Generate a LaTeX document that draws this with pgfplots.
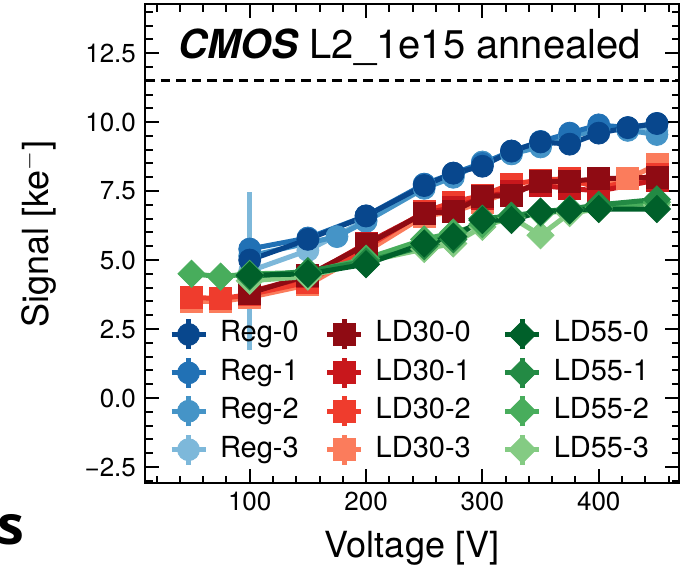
\documentclass[border=0pt]{standalone}
\usepackage{pgfplots}
\pgfplotsset{compat=1.18}
\usepackage{fontspec}
\setmainfont{TeX Gyre Heros}
\newfontfamily\osans{Open Sans}
\definecolor{b0}{HTML}{08478D}
\definecolor{b1}{HTML}{2171B5}
\definecolor{b2}{HTML}{4594C7}
\definecolor{b3}{HTML}{7DB8DA}
\definecolor{r0}{HTML}{8F0B13}
\definecolor{r1}{HTML}{C8171C}
\definecolor{r2}{HTML}{EF3C2D}
\definecolor{r3}{HTML}{FB7C5C}
\definecolor{g0}{HTML}{00602A}
\definecolor{g1}{HTML}{238A44}
\definecolor{g2}{HTML}{48AD5C}
\definecolor{g3}{HTML}{84CB83}
\pgfplotsset{
  regs/.style={color=#1, line width=2.5pt, mark=*, mark size=5.5pt, mark options={solid, line width=0.4pt, fill=#1}},
  lds/.style={color=#1, line width=2.5pt, mark=square*, mark size=5.5pt, mark options={solid, line width=0.4pt, fill=#1}},
  ldd/.style={color=#1, line width=2.5pt, mark=square*, mark size=4.8pt, mark options={solid, rotate=45, line width=0.4pt, fill=#1}},
}
\begin{document}
\begin{tikzpicture}[x=1pt,y=1pt]
\useasboundingbox (-72.5,-42) rectangle (277.5,241.5);
\begin{axis}[
  at={(0,0)}, anchor=south west, scale only axis,
  width=267pt, height=239.5pt,
  xmin=10, xmax=469, ymin=-3.08, ymax=14.28,
  axis line style={line width=1pt},
  tick align=inside, xtick pos=both, ytick pos=both,
  major tick length=7pt, minor tick length=3.75pt,
  every tick/.style={black, line width=1pt},
  xtick={100,200,300,400},
  minor xtick={20,40,...,460},
  ytick={-2.5,0,2.5,5,7.5,10,12.5},
  yticklabels={−2.5,0.0,2.5,5.0,7.5,10.0,12.5},
  minor ytick={-3,-2.5,...,14},
  tick label style={font=\fontsize{13}{15}\selectfont},
  /pgf/number format/assume math mode=true,
  xticklabel style={yshift=-1pt},
  yticklabel style={xshift=-1pt},
  xlabel={Voltage [V]},
  ylabel={Signal [ke$^{-}$]},
  label style={font=\fontsize{18}{21}\selectfont},
  xlabel style={at={(axis description cs:0.5,-0.1357)}, anchor=center},
  ylabel style={at={(axis description cs:-0.1985,0.52)}, anchor=center},
  legend columns=3,
  legend cell align=left,
  legend style={draw=none, fill=none, inner sep=0pt, outer sep=0pt,
    at={(rel axis cs:0.045,0.3466)}, anchor=north west,
    font=\fontsize{14.5}{17}\selectfont,
    nodes={inner sep=0pt, text height=10.5pt, text depth=3pt},
    row sep=1.7pt, column sep=6pt,
    /tikz/column 2/.style={column sep=13pt},
    /tikz/column 4/.style={column sep=16pt}},
  legend image code/.code={
    \draw[#1, mark=none] (0pt,0pt) -- (17pt,0pt);
    \draw[#1, mark=none] (8.5pt,-7.5pt) -- (8.5pt,7.5pt);
    \draw[#1] plot coordinates {(8.5pt,0pt)};
  },
]
% dashed reference line
\addplot[black, line width=1.5pt, dash pattern=on 4.8pt off 3pt, forget plot] coordinates {(10,11.5) (469,11.5)};

% Reg series
\addplot[regs=b3, forget plot, error bars/.cd, y dir=both, y explicit, error bar style={line width=2.5pt, color=b3}, error mark=none]
 coordinates {(100,4.6) +- (0,2.85) (150,5.35) +- (0,0) (200,6.45) +- (0,0) (250,7.75) +- (0,0) (275,8.1) +- (0,0) (300,8.55) +- (0,0) (325,8.85) +- (0,0) (350,9.15) +- (0,0) (375,9.5) +- (0,0) (400,9.7) +- (0,0) (425,9.75) +- (0,0) (450,9.7) +- (0,0)};
\addplot[regs=b2, forget plot] coordinates {(100,5.15) (175,5.85) (200,6.4) (250,7.6) (275,8.0) (300,8.55) (325,8.85) (350,9.1) (375,9.45) (400,9.75) (425,9.7) (450,9.55)};
\addplot[regs=b1, forget plot] coordinates {(100,5.4) (150,5.8) (200,6.6) (250,7.75) (275,8.15) (300,8.5) (325,8.95) (350,9.3) (375,9.6) (400,9.9) (425,9.8) (450,9.95)};
\addplot[regs=b0, forget plot] coordinates {(100,5.0) (150,5.75) (200,6.6) (250,7.7) (275,8.15) (300,8.4) (325,8.95) (350,9.28) (375,9.2) (400,9.6) (425,9.8) (450,9.95)};

% LD30 series
\addplot[lds=r3, forget plot] coordinates {(50,3.5) (75,3.5) (100,3.65) (150,4.1) (200,5.3) (250,6.6) (275,6.75) (300,7.1) (325,7.5) (350,7.75) (375,7.8) (400,7.75) (425,7.95) (450,8.45)};
\addplot[lds=r2, forget plot] coordinates {(50,3.65) (75,3.6) (100,3.75) (150,4.2) (200,5.45) (250,6.75) (275,7.1) (300,7.35) (325,7.75) (350,7.9) (375,7.95) (400,7.6) (450,8.1)};
\addplot[lds=r1, forget plot] coordinates {(100,3.85) (150,4.4) (200,5.6) (250,6.7) (275,6.9) (300,7.25) (325,7.5) (350,7.7) (375,7.6) (400,7.5) (450,7.9)};
\addplot[lds=r0, forget plot] coordinates {(100,3.8) (150,4.45) (200,5.55) (250,6.7) (275,6.75) (300,7.3) (325,7.35) (350,7.85) (375,7.85) (400,7.95) (450,8.0)};

% LD55 series
\addplot[ldd=g3, forget plot] coordinates {(100,4.25) (150,4.4) (200,4.95) (250,5.4) (275,5.6) (300,6.2) (325,6.55) (350,5.9) (375,6.7) (400,6.85) (450,7.0)};
\addplot[ldd=g2, forget plot] coordinates {(50,4.5) (75,4.4) (100,4.5) (150,4.55) (200,5.05) (250,5.75) (275,6.0) (300,6.3) (325,6.6) (350,6.7) (375,6.8) (400,6.9) (450,7.1)};
\addplot[ldd=g1, forget plot] coordinates {(100,4.4) (150,4.6) (200,4.95) (250,5.5) (275,5.75) (300,6.5) (325,6.6) (350,6.75) (375,6.85) (400,7.0) (450,7.2)};
\addplot[ldd=g0, forget plot] coordinates {(100,4.45) (150,4.5) (200,4.85) (250,5.6) (275,5.85) (300,6.45) (325,6.45) (350,6.75) (375,6.8) (400,6.85) (450,6.85)};

% legend (row-wise)
\addlegendimage{regs=b0}\addlegendentry{Reg-0}
\addlegendimage{lds=r0}\addlegendentry{LD30-0}
\addlegendimage{ldd=g0}\addlegendentry{LD55-0}
\addlegendimage{regs=b1}\addlegendentry{Reg-1}
\addlegendimage{lds=r1}\addlegendentry{LD30-1}
\addlegendimage{ldd=g1}\addlegendentry{LD55-1}
\addlegendimage{regs=b2}\addlegendentry{Reg-2}
\addlegendimage{lds=r2}\addlegendentry{LD30-2}
\addlegendimage{ldd=g2}\addlegendentry{LD55-2}
\addlegendimage{regs=b3}\addlegendentry{Reg-3}
\addlegendimage{lds=r3}\addlegendentry{LD30-3}
\addlegendimage{ldd=g3}\addlegendentry{LD55-3}

\node[font=\fontsize{20}{24}\selectfont, anchor=center, inner sep=0pt] at (rel axis cs:0.496,0.91) {{\bfseries\itshape CMOS} L2\_1e15 annealed};
\end{axis}
\node[font=\osans\bfseries\fontsize{27}{30}\selectfont, anchor=east, inner sep=0pt] at (-60,-23.5) {ns};
\end{tikzpicture}
\end{document}
